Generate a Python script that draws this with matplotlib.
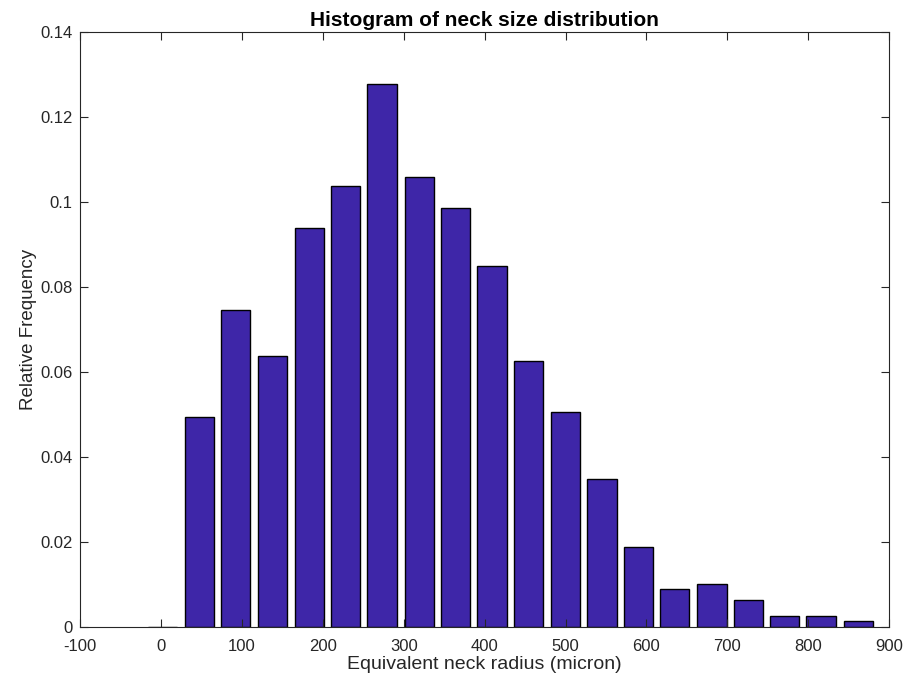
import matplotlib.pyplot as plt

# bin centres (micron) and relative frequency per bin
bin_centers = [2, 47, 92, 138, 183, 228, 273, 319, 364, 409,
               454, 500, 545, 590, 635, 681, 726, 771, 816, 862]
rel_freq = [0.0, 0.0493, 0.0744, 0.0637, 0.0938, 0.1037, 0.1276, 0.1057, 0.0986, 0.0848,
            0.0624, 0.0505, 0.0347, 0.0188, 0.0088, 0.0100, 0.0064, 0.0025, 0.0025, 0.0013]

x_ticks = list(range(-100, 901, 100))
y_ticks = [0, 0.02, 0.04, 0.06, 0.08, 0.1, 0.12, 0.14]
y_labels = ["0", "0.02", "0.04", "0.06", "0.08", "0.1", "0.12", "0.14"]

plt.rcParams["font.family"] = ["Liberation Sans", "DejaVu Sans"]

fig = plt.figure(figsize=(9.1, 6.81), dpi=100)
ax = fig.add_axes([0.0882, 0.0797, 0.8888, 0.874])

ax.bar(bin_centers, rel_freq, width=36.2, color="#3e26a8", edgecolor="black", linewidth=1.0)

ax.set_xlim(-100, 900)
ax.set_ylim(0, 0.14)
ax.set_xticks(x_ticks)
ax.set_xticklabels([str(t) for t in x_ticks])
ax.set_yticks(y_ticks)
ax.set_yticklabels(y_labels)
ax.tick_params(direction="in", top=True, right=True, length=5.5, width=0.8,
               labelsize=12, colors="#262626")
ax.tick_params(axis="x", pad=8.5)
ax.tick_params(axis="y", pad=5.5)
for s in ax.spines.values():
    s.set_linewidth(0.8)
    s.set_color("#262626")

ax.set_xlabel("Equivalent neck radius (micron)", fontsize=14, labelpad=2, color="#262626")
ax.set_ylabel("Relative Frequency", fontsize=13.5, labelpad=2, color="#262626")
ax.set_title("Histogram of neck size distribution", fontsize=15, fontweight="bold", pad=4)

fig.savefig("out.png", dpi=100)
